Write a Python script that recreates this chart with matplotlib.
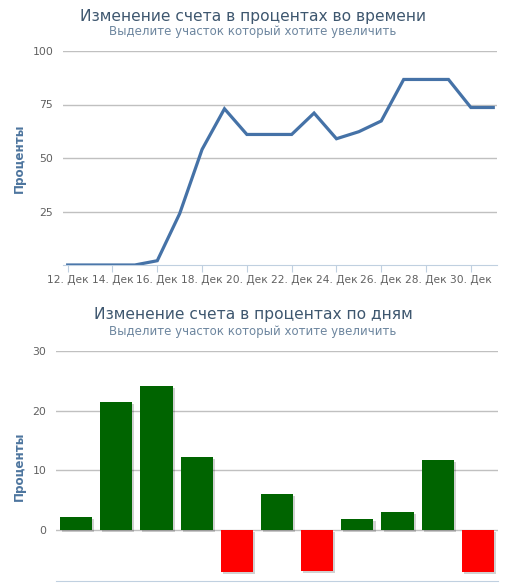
import numpy as np
import pandas as pd
import matplotlib
matplotlib.use("Agg")
import matplotlib.pyplot as plt
import matplotlib.dates as mdates
import matplotlib.patheffects as pe

# Данные: изменение счета во времени (12-31 декабря)
dates = pd.date_range("2012-12-12", "2012-12-31", freq="D")
percent = [0, 0, 0, 0, 2, 24, 54, 73, 61, 61, 61, 71, 59, 62.3, 67.3,
           86.7, 86.7, 86.7, 73.6, 73.6]
month_ru = "Дек"

# Изменение по дням
daily = [2.25, 21.5, 24.2, 12.2, -7.0, 6.1, -6.8, 1.9, 3.1, 11.7, -7.0]

title_color = "#3E576F"
sub_color = "#6D869F"
label_color = "#606060"
axis_title_color = "#4D759E"
grid_color = "#C0C0C0"
axis_line_color = "#C0D0E0"

W, H = 518, 586
fig = plt.figure(figsize=(W / 100, H / 100), dpi=100)


def px_axes(left, top, right, bottom):
    return fig.add_axes([left / W, 1 - bottom / H, (right - left) / W, (bottom - top) / H])


def style(ax):
    for s in ax.spines.values():
        s.set_visible(False)
    ax.grid(axis="y", color=grid_color, linewidth=1)
    ax.set_axisbelow(True)
    ax.tick_params(axis="y", length=0, labelsize=7.8, labelcolor=label_color, pad=7)
    ax.set_ylabel("Проценты", fontsize=8.6, fontweight="bold", color=axis_title_color)


# --- Верхний график: линия ---
ax1 = px_axes(63, 51, 497, 265)
style(ax1)
ax1.plot(dates, percent, color="#4572A7", linewidth=2.3, solid_joinstyle="miter")
ax1.set_ylim(0, 100)
ax1.set_yticks([25, 50, 75, 100])
ax1.set_xlim(dates[0] - pd.Timedelta(hours=5), dates[-1] + pd.Timedelta(hours=4))
ax1.xaxis.set_major_locator(mdates.DayLocator(bymonthday=range(12, 32, 2)))
ax1.xaxis.set_major_formatter(mdates.DateFormatter("%d. " + month_ru))
ax1.spines["bottom"].set_visible(True)
ax1.spines["bottom"].set_color(axis_line_color)
ax1.tick_params(axis="x", length=5, color=axis_line_color, labelsize=7.7,
                labelcolor=label_color, pad=2)
ax1.yaxis.set_label_coords(-0.086, 0.5)

fig.text(253 / W, 1 - 16 / H, "Изменение счета в процентах во времени",
         ha="center", va="center", fontsize=11.2, color=title_color)
fig.text(253 / W, 1 - 32 / H, "Выделите участок который хотите увеличить",
         ha="center", va="center", fontsize=8.5, color=sub_color)

# --- Нижний график: столбцы ---
ax2 = px_axes(56, 351, 498, 581)
style(ax2)
x = np.arange(len(daily))
colors = ["#006400" if v >= 0 else "#FF0000" for v in daily]
bars = ax2.bar(x, daily, width=0.8, color=colors, zorder=3)
for b in bars:
    b.set_path_effects([pe.SimplePatchShadow(offset=(1.5, -1.5), shadow_rgbFace="black", alpha=0.18),
                        pe.Normal()])
ax2.set_xlim(-0.5, len(daily) - 0.5)
ax2.set_ylim(-8.5, 30)
ax2.set_yticks([0, 10, 20, 30])
ax2.set_xticks([])
ax2.spines["bottom"].set_visible(True)
ax2.spines["bottom"].set_color(axis_line_color)
ax2.yaxis.set_label_coords(-0.069, 0.5)

fig.text(253 / W, 1 - 315 / H, "Изменение счета в процентах по дням",
         ha="center", va="center", fontsize=11.2, color=title_color)
fig.text(253 / W, 1 - 332 / H, "Выделите участок который хотите увеличить",
         ha="center", va="center", fontsize=8.5, color=sub_color)

fig.savefig("out.png", dpi=100)
